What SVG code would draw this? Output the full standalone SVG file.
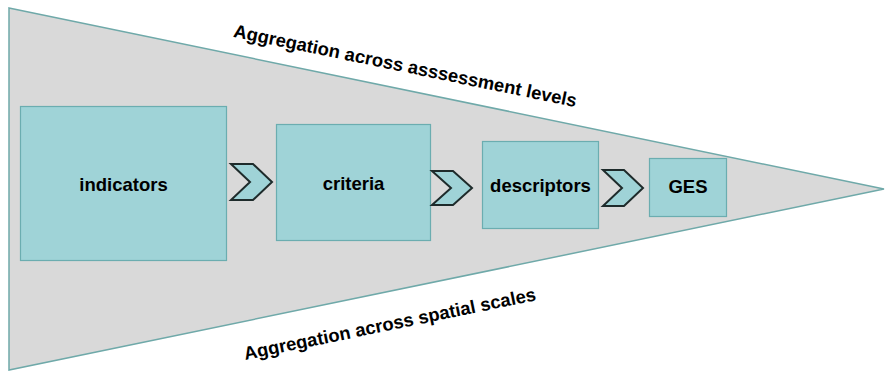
<svg xmlns="http://www.w3.org/2000/svg" width="885" height="371" viewBox="0 0 885 371">
<style>
.box{fill:#9FD3D7;stroke:#6BADB0;stroke-width:1.2}
.chev{fill:#9FD3D7;stroke:#1E2B2B;stroke-width:2;stroke-linejoin:miter}
.lbl{font-family:"Liberation Sans",Arial,sans-serif;font-weight:bold;font-size:18.5px;fill:#000;text-anchor:middle}
.cap{font-family:"Liberation Sans",Arial,sans-serif;font-weight:bold;font-size:18.4px;fill:#000;text-anchor:middle}
</style>
<rect width="885" height="371" fill="#fff"/>
<g id="funnel">
<polygon points="9,8 884,189 9,370" fill="#D9D9D9" stroke="#6FA9A9" stroke-width="1.5"/>
</g>
<g id="caption-top"><text class="cap" transform="translate(404,72) rotate(11.6)">Aggregation across asssessment levels</text></g>
<g id="caption-bottom"><text class="cap" transform="translate(391,330) rotate(-11.6)">Aggregation across spatial scales</text></g>
<g id="indicators"><rect class="box" x="20.5" y="106.5" width="206" height="154"/><text class="lbl" x="123.5" y="191">indicators</text></g>
<g id="criteria"><rect class="box" x="276.5" y="124.5" width="154" height="116"/><text class="lbl" x="353.5" y="190">criteria</text></g>
<g id="descriptors"><rect class="box" x="482.5" y="141.5" width="116" height="87"/><text class="lbl" x="540.5" y="192">descriptors</text></g>
<g id="GES"><rect class="box" x="649.5" y="158.5" width="77" height="58"/><text class="lbl" x="688" y="193">GES</text></g>
<g id="connectors">
<polygon class="chev" points="231,164 253,164 272,182 253,200 231,200 250,182"/>
<polygon class="chev" points="432,171 453,171 472,188 453,205 432,205 451,188"/>
<polygon class="chev" points="603,170 624,170 643,188 624,206 603,206 622,188"/>
</g>
</svg>
